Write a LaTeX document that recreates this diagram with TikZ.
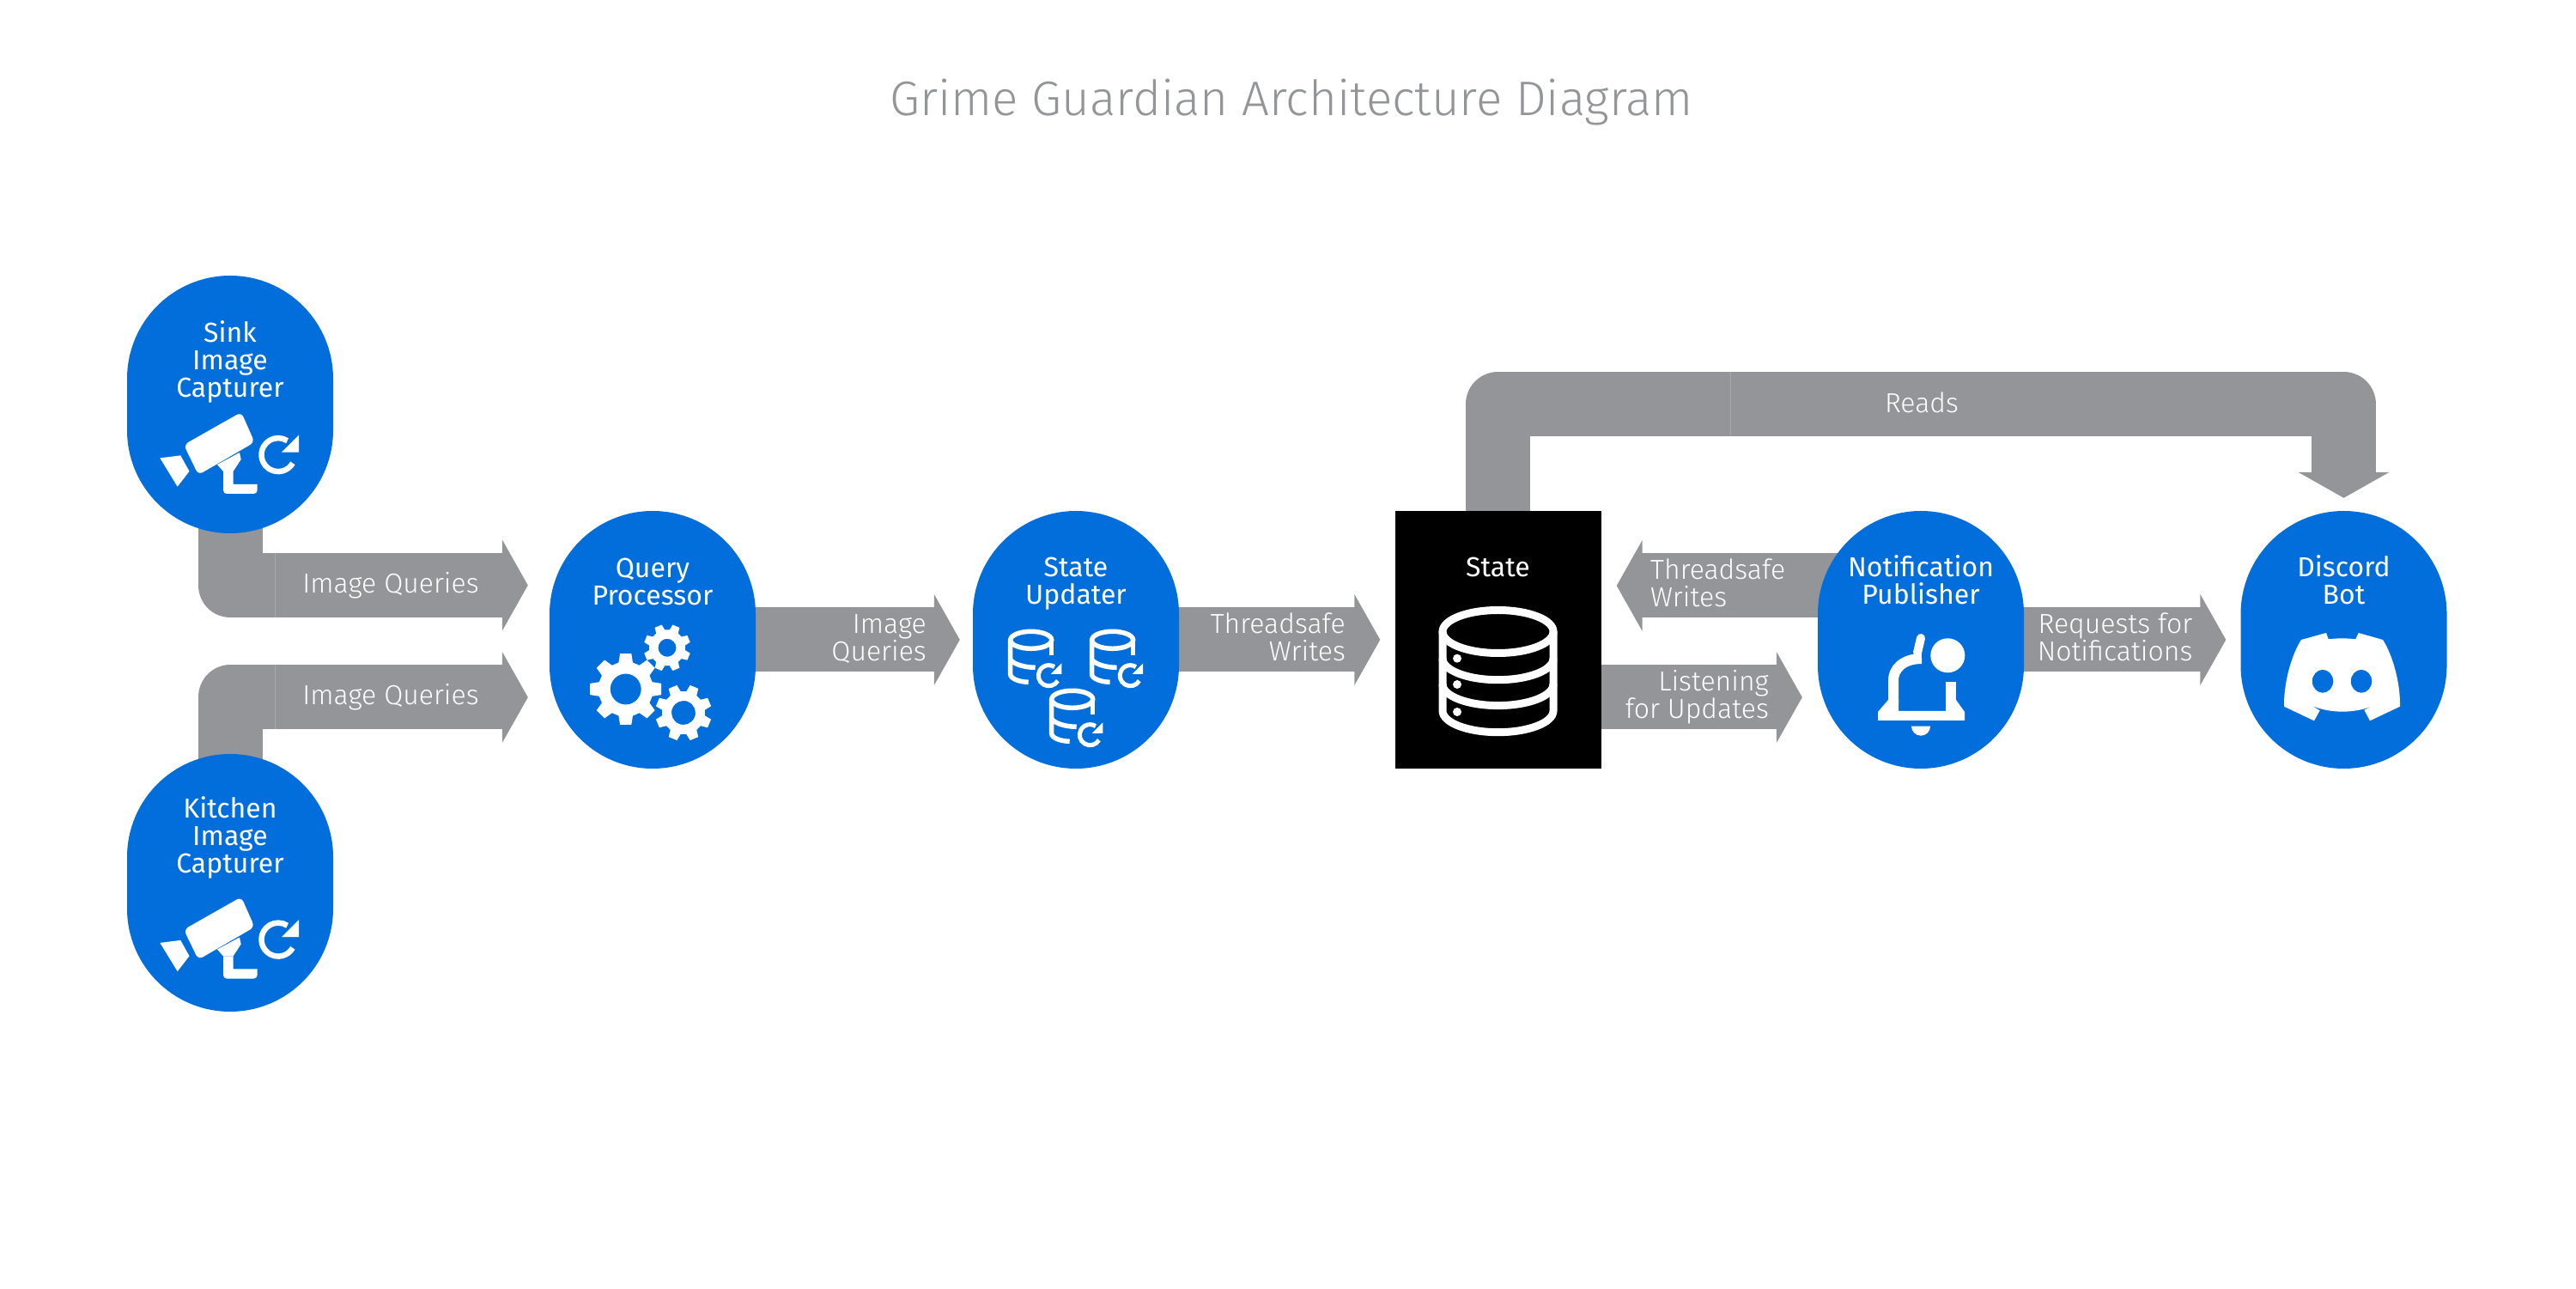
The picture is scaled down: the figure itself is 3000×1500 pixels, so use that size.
\documentclass[tikz,border=0pt]{standalone}
\usepackage{fontspec}
\setmainfont{Fira Sans}
\newfontfamily\lightfont{Fira Sans Light}
\usetikzlibrary{arrows.meta,backgrounds}

\definecolor{svcblue}{HTML}{026EDC}
\definecolor{flowgray}{HTML}{939598}
\definecolor{seamgray}{HTML}{A6A8AB}

\newcommand{\gearshape}[6]{
\fill[white,even odd rule,shift={(#1,#2)},rotate=#6] (-15:#4) \foreach \a in {0,45,...,315} { -- (\a-15:#4) -- (\a-9:#3) -- (\a+9:#3) -- (\a+15:#4) } -- cycle (0,0) circle (#5);
}

\tikzset{
svc/.style={fill=svcblue,rounded corners=120pt,minimum width=240pt,minimum height=300pt,inner sep=0pt},
statebox/.style={fill=black,minimum width=240pt,minimum height=300pt,inner sep=0pt},
svctext/.style={text=white,font=\fontsize{32}{32}\selectfont,align=center,inner sep=0pt,anchor=base},
flowtext/.style={text=white,font=\lightfont\fontsize{32}{32}\selectfont,inner sep=0pt},
flow/.style={draw=flowgray,line width=75pt,line join=round,shorten >=17pt,-{Triangle[length=30pt,width=105pt]}},
seam/.style={draw=seamgray,line width=1pt},
flip/.style={yscale=-1},
refreshmark/.pic={
\draw[white] (30:19.5) arc (30:303:19.5);
\fill[white] (24,-23) -- (24,-3) -- (4,-3) -- cycle;
},
capturecam/.pic={
\fill[white,rounded corners=6pt] (-54,47) -- (13,9) -- (28.5,44) -- (-37,82) -- cycle;
\fill[white] (-15,70) -- (11,56) -- (12.7,64) -- (3.5,78) -- (-8,78) -- cycle;
\fill[white,rounded corners=4pt] (-8,78) -- (-8,104) -- (31.6,104) [sharp corners] -- (31.6,93) -- (3.5,93) -- (3.5,78) -- cycle;
\fill[white] (-81.7,62.4) -- (-57.7,59.4) -- (-47.5,77.8) -- (-61.3,95.7) -- cycle;
\pic[flip,line width=6.5pt] at (56,58.6) {refreshmark};
},
dbsync/.pic={
\draw[white,line width=5.5pt] (0,12) ellipse (24 and 10);
\draw[white,line width=5.5pt] (-24,12) -- (-24,52) .. controls (-24,57) and (-13,61) .. (-3,61);
\draw[white,line width=5.5pt] (24,12) -- (24,30);
\draw[white,line width=5.5pt] (-24,35) .. controls (-20,40) and (-8,44) .. (5,44);
\pic[flip,scale=0.62,line width=5pt] at (20.7,53.4) {refreshmark};
},
bigdb/.pic={
\draw[white,line width=9pt] (0,-9.5) ellipse (64.5 and 25);
\draw[white,line width=9pt] (-64.5,-9.5) -- (-64.5,82.7) arc (180:0:64.5 and 25) -- (64.5,-9.5);
\draw[white,line width=9pt] (-64.5,21.7) arc (180:0:64.5 and 25);
\draw[white,line width=9pt] (-64.5,51.6) arc (180:0:64.5 and 25);
\foreach \doty in {21.7,52,84} \fill[white] (-47.5,\doty) circle (5);
},
gearset/.pic={
\gearshape{-31.3}{57.5}{42}{32}{18}{0}
\gearshape{17}{9.3}{27.5}{21}{10.5}{22.5}
\gearshape{36}{85}{33}{25}{14}{22.5}
},
bellmark/.pic={
\draw[white,line width=12pt] (-32,74) -- (-32,47) .. controls (-32,35) and (-22,22) .. (1,22);
\draw[white,line width=10pt,line cap=round] (-4,15) -- (0,-2);
\draw[white,line width=12pt] (35,49) -- (35,74);
\fill[white] (31.3,18.3) circle (20);
\fill[white] (-38,70) -- (-50,84) -- (-50,94) -- (51,94) -- (51,84) -- (41,70) -- (29,70) -- (29,83) -- (-26,83) -- (-26,70) -- cycle;
\fill[white] (-11,100.7) -- (11,100.7) arc (0:180:11) -- cycle;
},
discordmark/.pic={
\fill[white,even odd rule] (-49.5,0) -- (-20.5,-8) -- (-17.8,-.7) .. controls (-5,-2) and (1,-2) .. (13.8,-.7) -- (17.2,-8) -- (45.5,0) .. controls (57,18) and (66,50) .. (65.5,77.7) -- (30.5,94.3) -- (23.8,81.7) -- (34.8,76.7) .. controls (12,86) and (-15,86) .. (-37.8,76.7) -- (-27.8,82.3) -- (-34.5,94.3) -- (-69.5,77.7) .. controls (-70,50) and (-61,18) .. (-49.5,0) -- cycle
(-24.5,48.3) ellipse (12.3 and 13.5) (20.5,48.3) ellipse (12.3 and 13.5);
},
}

\begin{document}
\begin{tikzpicture}[x=1pt,y=1pt]

\useasboundingbox (0,0) rectangle (3000,1500);

\node[text=flowgray,font=\lightfont\fontsize{56.5}{56.5}\selectfont,inner sep=0pt,anchor=base] (title) at (1504,1365) {Grime Guardian Architecture Diagram};

\node[svc] (sink) at (268,1029) {};
\node[svc] (kitchen) at (268,472) {};
\node[svc] (query) at (760,755) {};
\node[svc] (updater) at (1253,755) {};
\node[statebox] (state) at (1744.5,755) {};
\node[svc] (notifier) at (2237,755) {};
\node[svc] (discord) at (2729.5,755) {};

\coordinate (readsrail) at (2238,1029.5);

\begin{pgfonlayer}{background}
\draw[flow,shorten >=25pt] (sink.center) |- ([yshift=63.5pt]query.west);
\draw[flow,shorten >=25pt] (kitchen.center) |- ([yshift=-67pt]query.west);
\draw[flow,shorten >=15pt] (query.center) -- (updater.west);
\draw[flow] (updater.center) -- (state.west);
\draw[flow,shorten >=18pt] ([yshift=63pt]notifier.center) -- ([yshift=63pt]state.east);
\draw[flow,shorten >=18pt] ([yshift=-67pt]state.center) -- ([yshift=-67pt]notifier.west);
\draw[flow] (notifier.center) -- (discord.west);
\draw[flow,shorten >=15pt] (state.center) -- (state.center |- readsrail) -- (discord.north |- readsrail) -- (discord.north);
\end{pgfonlayer}

\draw[seam] (320.5,781) -- (320.5,856);
\draw[seam] (320.5,650.5) -- (320.5,725.5);
\draw[seam] (2015,992.5) -- (2015,1067);

\node[svctext] (sinktext) at (268,1037) {Sink\\Image\\Capturer};
\node[svctext] (kitchentext) at (268,483) {Kitchen\\Image\\Capturer};
\node[svctext] (querytext) at (760,795) {Query\\Processor};
\node[svctext] (updatertext) at (1253,796) {State\\Updater};
\node[svctext] (statetext) at (1744.5,828) {State};
\node[svctext] (notifiertext) at (2237,796) {Notification\\Publisher};
\node[svctext] (discordtext) at (2729.5,796) {Discord\\Bot};

\node[flowtext,anchor=base] (sinkflow) at (455,809) {Image Queries};
\node[flowtext,anchor=base] (kitchenflow) at (455,679) {Image Queries};
\node[flowtext,anchor=base east,align=right] (queryflow) at (1079,730) {Image\\Queries};
\node[flowtext,anchor=base east,align=right] (updaterflow) at (1567,730) {Threadsafe\\Writes};
\node[flowtext,anchor=base west,align=left] (writeflow) at (1922,793) {Threadsafe\\Writes};
\node[flowtext,anchor=base east,align=right] (listenflow) at (2060,663) {Listening\\for Updates};
\node[flowtext,anchor=base east,align=right] (requestflow) at (2553.5,730) {Requests for\\Notifications};
\node[flowtext,anchor=base] (readsflow) at (2238,1019) {Reads};

\pic[flip] at (sink.center) {capturecam};
\pic[flip] at ([yshift=-7.5pt]kitchen.center) {capturecam};
\pic[flip] at (query.center) {gearset};
\pic[flip] at ([shift={(-52.3,11.7)}]updater.center) {dbsync};
\pic[flip] at ([shift={(42.6,11.7)}]updater.center) {dbsync};
\pic[flip] at ([shift={(-4.3,-57.3)}]updater.center) {dbsync};
\pic[flip] at (state.center) {bigdb};
\pic[flip] at (notifier.center) {bellmark};
\pic[flip] at (discord.center) {discordmark};

\end{tikzpicture}
\end{document}
